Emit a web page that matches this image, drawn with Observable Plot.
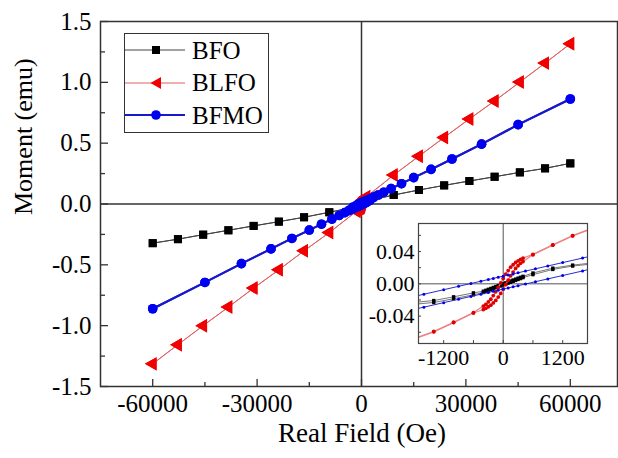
<!DOCTYPE html>
<html><head><meta charset="utf-8">
<script src="https://cdn.jsdelivr.net/npm/d3@7"></script>
<script src="https://cdn.jsdelivr.net/npm/@observablehq/plot@0.6"></script>
<style>
html,body{margin:0;padding:0;background:#fff;}
#wrap{position:relative;width:618px;height:458px;font-family:"Liberation Serif","Times New Roman",serif;background:#fff;overflow:hidden;}
#wrap svg{position:absolute;}
#legend{position:absolute;left:124px;top:33px;width:145px;height:100px;border:1.3px solid #333;background:#fff;box-sizing:border-box;}
#legend .row{display:flex;align-items:center;height:32.5px;}
#legend .row span{font-size:25px;margin-left:6px;line-height:1;color:#000;}
#legend .row svg{position:static;}
#inset{position:absolute;left:358px;top:218px;}
</style></head><body><div id="wrap"><div id="inset"></div><div id="legend"></div></div>
<script>
// ---- data ----
const seriesNames = ["BFO", "BLFO", "BFMO"];

const BFO_H = [-60000,-52750,-45500,-38250,-31000,-23750,-16500,-9250,-1400,-1000,-600,-400,-350,-300,-250,-200,-150,-100,-50,0,50,100,150,200,250,300,350,400,600,1000,1400,9250,16500,23750,31000,38250,45500,52750,60000];
const BFO_down = [-0.322,-0.289,-0.252,-0.216,-0.180,-0.145,-0.109,-0.068,-0.0207,-0.0161,-0.0112,-0.0091,-0.0080,-0.0068,-0.0057,-0.0045,-0.0034,-0.0022,-0.0011,0.0001,0.0012,0.0024,0.0035,0.0047,0.0058,0.0070,0.0081,0.0093,0.0134,0.0194,0.0232,0.074,0.115,0.153,0.189,0.224,0.260,0.293,0.334];
const BFO_up = [-0.322,-0.289,-0.252,-0.216,-0.180,-0.145,-0.109,-0.068,-0.0231,-0.0185,-0.0136,-0.0107,-0.0096,-0.0084,-0.0073,-0.0061,-0.0050,-0.0038,-0.0027,-0.0015,-0.0004,0.0008,0.0019,0.0031,0.0042,0.0054,0.0065,0.0077,0.0114,0.0178,0.0220,0.074,0.115,0.153,0.189,0.224,0.260,0.293,0.334];

const BLFO_H = BFO_H;
const BLFO_down = [-1.314,-1.156,-1.000,-0.847,-0.691,-0.541,-0.385,-0.235,-0.0590,-0.0476,-0.0356,-0.0276,-0.0254,-0.0224,-0.0191,-0.0146,-0.0099,-0.0044,0.0011,0.0066,0.0119,0.0164,0.0206,0.0236,0.0264,0.0284,0.0303,0.0318,0.0365,0.0483,0.0598,0.238,0.393,0.547,0.699,0.847,1.002,1.158,1.317];
const BLFO_up = [-1.314,-1.156,-1.000,-0.847,-0.691,-0.541,-0.385,-0.235,-0.0595,-0.0480,-0.0362,-0.0318,-0.0303,-0.0284,-0.0264,-0.0236,-0.0206,-0.0164,-0.0119,-0.0066,-0.0011,0.0044,0.0099,0.0146,0.0191,0.0224,0.0254,0.0276,0.0359,0.0478,0.0593,0.238,0.393,0.547,0.699,0.847,1.002,1.158,1.317];

const BFMO_H = [-60000,-45000,-34500,-26000,-20000,-15000,-11500,-8500,-6400,-4800,-3500,-2500,-1600,-1200,-900,-650,-450,-300,-200,-100,0,100,200,300,450,650,900,1200,1600,2500,3500,4800,6400,8500,11500,15000,20000,26000,34500,45000,60000];
const BFMO_down = [-0.861,-0.645,-0.490,-0.369,-0.283,-0.214,-0.166,-0.124,-0.094,-0.071,-0.049,-0.026,-0.0129,-0.0073,-0.0031,0.0004,0.0032,0.0053,0.0067,0.0081,0.0095,0.0109,0.0123,0.0137,0.0158,0.0186,0.0221,0.0263,0.0319,0.045,0.059,0.074,0.097,0.126,0.167,0.217,0.285,0.370,0.492,0.652,0.863];
const BFMO_up = [-0.861,-0.645,-0.490,-0.369,-0.283,-0.214,-0.166,-0.124,-0.094,-0.071,-0.055,-0.041,-0.0289,-0.0233,-0.0191,-0.0156,-0.0128,-0.0107,-0.0093,-0.0079,-0.0065,-0.0051,-0.0037,-0.0023,-0.0002,0.0026,0.0061,0.0103,0.0159,0.030,0.053,0.074,0.097,0.126,0.167,0.217,0.285,0.370,0.492,0.652,0.863];

const xMajor = [-60000, -30000, 0, 30000, 60000];
const xMinor = [-45000, -15000, 15000, 45000];
const yMajor = [-1.5, -1.0, -0.5, 0.0, 0.5, 1.0, 1.5];
const yMinor = [-1.25, -0.75, -0.25, 0.25, 0.75, 1.25];
const insetXLabels = [-1200, 0, 1200];
const insetXTicks = [-1200, -600, 0, 600, 1200];
const insetYLabels = [-0.04, 0.00, 0.04];
const insetYTicks = [-0.06, -0.04, -0.02, 0, 0.02, 0.04, 0.06];
const xTitle = "Real Field (Oe)";
const yTitle = "Moment (emu)";

// ---- build table ----
const rows = [];
function addSeries(name, H, down, up) {
  H.forEach((h, i) => rows.push({s: name, b: "down", H: h, m: down[i]}));
  H.forEach((h, i) => rows.push({s: name, b: "up", H: h, m: up[i]}));
}
addSeries("BFO", BFO_H, BFO_down, BFO_up);
addSeries("BLFO", BLFO_H, BLFO_down, BLFO_up);
addSeries("BFMO", BFMO_H, BFMO_down, BFMO_up);
const of = (n) => rows.filter(d => d.s === n);

const FONT = "Liberation Serif";

// ---- main chart ----
const main = Plot.plot({
  width: 618, height: 458,
  marginLeft: 100, marginRight: 1, marginTop: 21, marginBottom: 72,
  x: {domain: [-75000, 73560]},
  y: {domain: [-1.5, 1.5]},
  style: {fontFamily: FONT, fontSize: "25px", color: "#000", background: "transparent", overflow: "visible"},
  marks: [
    Plot.ruleX([0], {stroke: "#333", strokeWidth: 1.5}),
    Plot.ruleY([0], {stroke: "#333", strokeWidth: 1.5}),
    Plot.tickX(xMinor, {x: d => d, stroke: "#333", strokeWidth: 1.3, insetTop: 365 - 4}),
    Plot.tickX(xMajor, {x: d => d, stroke: "#333", strokeWidth: 1.3, insetTop: 365 - 7}),
    Plot.tickY(yMinor, {y: d => d, stroke: "#333", strokeWidth: 1.3, insetRight: 516 - 4}),
    Plot.tickY(yMajor, {y: d => d, stroke: "#333", strokeWidth: 1.3, insetRight: 516 - 7}),
    Plot.axisX(xMajor, {tickSize: 0, tickPadding: 8, tickFormat: d => String(d), label: null, fontSize: 25}),
    Plot.axisY(yMajor, {tickSize: 0, tickPadding: 9, tickFormat: d => d.toFixed(1), label: null, fontSize: 25}),
    Plot.text([xTitle], {frameAnchor: "bottom", dx: 3, dy: 55, fontSize: 27}),
    Plot.text([yTitle], {frameAnchor: "left", dx: -77, dy: 11, rotate: -90, fontSize: 26}),
    Plot.line(of("BFO"), {x: "H", y: "m", z: "b", stroke: "#444", strokeWidth: 1}),
    Plot.dot(of("BFO"), {x: "H", y: "m", symbol: "square", r: 4.5, fill: "#000", stroke: "none"}),
    Plot.line(of("BLFO"), {x: "H", y: "m", z: "b", stroke: "#e26060", strokeWidth: 1}),
    Plot.dot(of("BLFO"), {x: "H", y: "m", symbol: "triangle", rotate: -90, r: 5, fill: "#f00000", stroke: "none"}),
    Plot.line(of("BFMO"), {x: "H", y: "m", z: "b", stroke: "#1818cc", strokeWidth: 2}),
    Plot.dot(of("BFMO"), {x: "H", y: "m", r: 4.8, fill: "#0000f0", stroke: "none"}),
    Plot.frame({stroke: "#333", strokeWidth: 1.5})
  ]
});
main.style.left = "0px"; main.style.top = "0px";
const wrap = document.getElementById("wrap");
wrap.insertBefore(main, wrap.firstChild);

// ---- inset ----
const inset = Plot.plot({
  width: 234, height: 155,
  marginLeft: 60, marginRight: 5, marginTop: 5, marginBottom: 30,
  x: {domain: [-1708, 1700]},
  y: {domain: [-0.0739, 0.0747]},
  style: {fontFamily: FONT, fontSize: "22px", color: "#000", background: "transparent", overflow: "visible"},
  marks: [
    Plot.frame({fill: "#fff", stroke: "none"}),
    Plot.ruleX([0], {stroke: "#555", strokeWidth: 1}),
    Plot.ruleY([0], {stroke: "#555", strokeWidth: 1}),
    Plot.tickX(insetXTicks, {x: d => d, stroke: "#444", strokeWidth: 1, insetTop: 120 - 3}),
    Plot.tickY(insetYTicks, {y: d => d, stroke: "#444", strokeWidth: 1, insetRight: 169 - 3}),
    Plot.line(of("BFO"), {x: "H", y: "m", z: "b", stroke: "#777", strokeWidth: 1, clip: true}),
    Plot.dot(of("BFO"), {x: "H", y: "m", symbol: "square", r: 1.9, fill: "#000", stroke: "none", clip: true}),
    Plot.line(of("BLFO"), {x: "H", y: "m", z: "b", stroke: "#ee8080", strokeWidth: 1.2, clip: true}),
    Plot.dot(of("BLFO"), {x: "H", y: "m", r: 1.9, fill: "#e00000", stroke: "none", clip: true}),
    Plot.line(of("BFMO"), {x: "H", y: "m", z: "b", stroke: "#2a2ad0", strokeWidth: 1, clip: true}),
    Plot.dot(of("BFMO"), {x: "H", y: "m", r: 1.5, fill: "#0000f0", stroke: "none", clip: true}),
    Plot.axisX(insetXLabels, {tickSize: 0, tickPadding: 6, tickFormat: d => String(d), label: null, fontSize: 22}),
    Plot.axisY(insetYLabels, {tickSize: 0, tickPadding: 4, tickFormat: d => d.toFixed(2), label: null, fontSize: 22}),
    Plot.frame({stroke: "#444", strokeWidth: 1.2})
  ]
});
document.getElementById("inset").appendChild(inset);
inset.style.position = "static";

// ---- legend ----
const legendSpec = [
  {name: "BFO", color: "#000", line: "#444", lw: 1, sym: "square"},
  {name: "BLFO", color: "#f00000", line: "#e26060", lw: 1, sym: "triangle"},
  {name: "BFMO", color: "#0000f0", line: "#1818cc", lw: 2, sym: "circle"}
];
const legend = document.getElementById("legend");
for (const s of legendSpec) {
  const row = document.createElement("div");
  row.className = "row";
  let marker = "";
  if (s.sym === "square") marker = `<rect x="27" y="12" width="8" height="8" fill="${s.color}"/>`;
  else if (s.sym === "triangle") marker = `<path d="M25.5,16 L36,10 L36,22 Z" fill="${s.color}"/>`;
  else marker = `<circle cx="31" cy="16" r="4.8" fill="${s.color}"/>`;
  row.innerHTML = `<svg width="61" height="32"><line x1="0" x2="60" y1="16" y2="16" stroke="${s.line}" stroke-width="${s.lw}"/>${marker}</svg><span>${s.name}</span>`;
  legend.appendChild(row);
}
</script></body></html>
